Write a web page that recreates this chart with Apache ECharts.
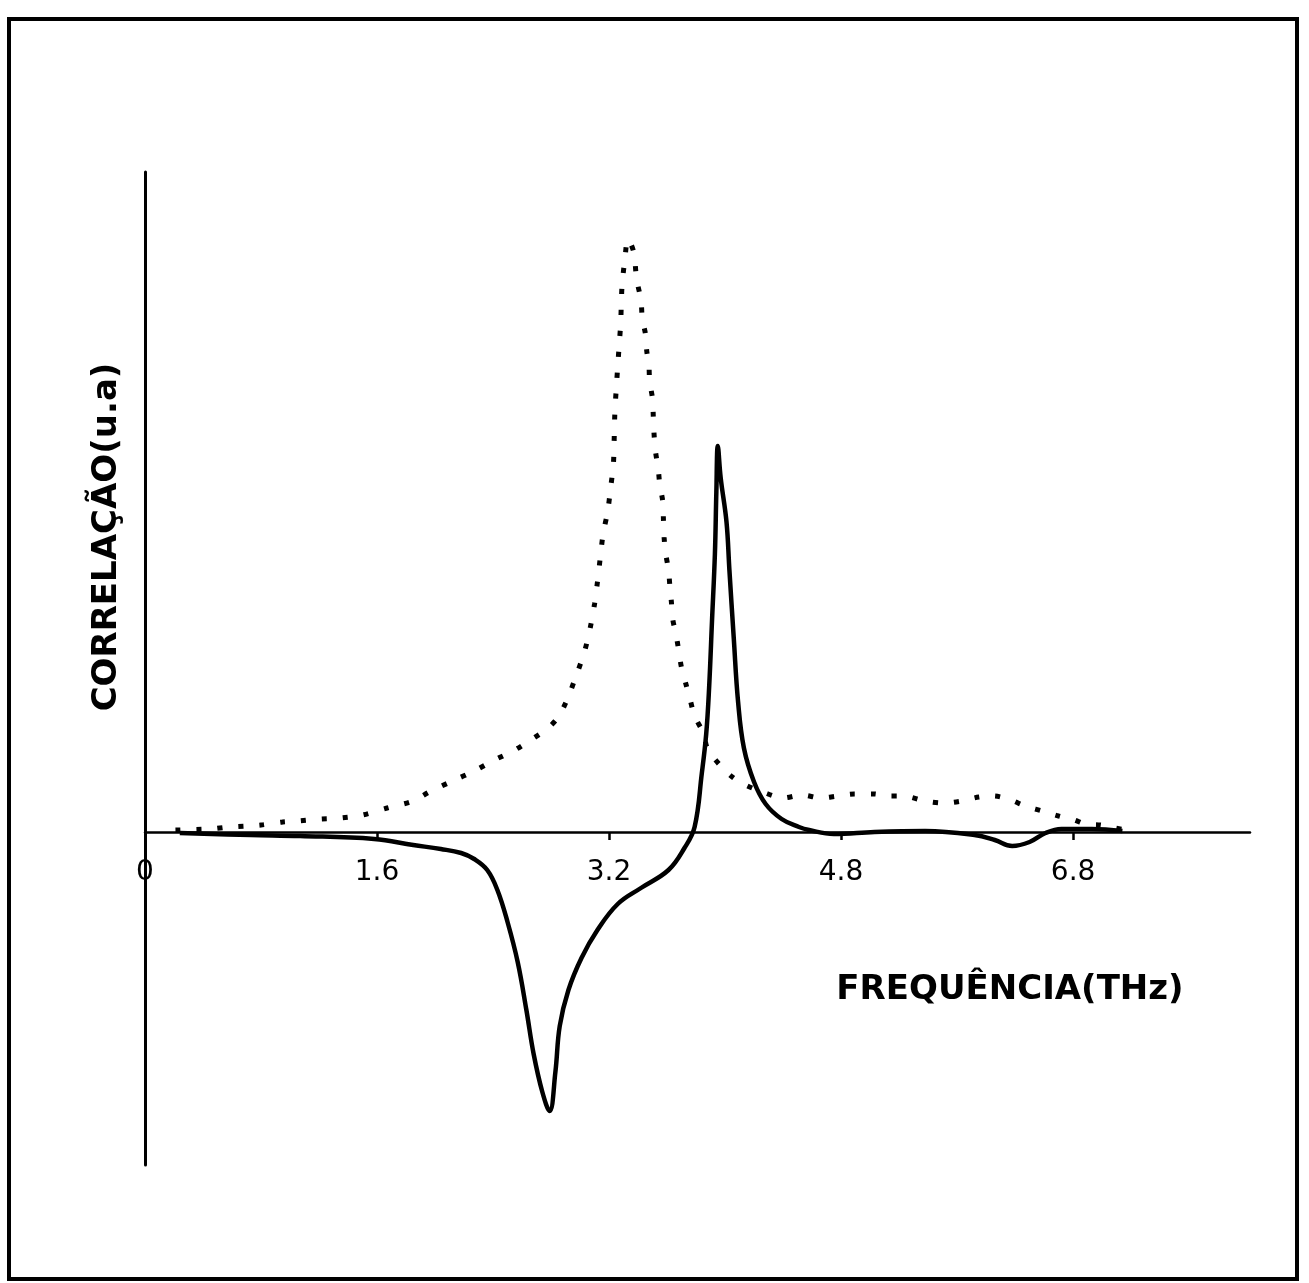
<!DOCTYPE html>
<html>
<head>
<meta charset="utf-8">
<script src="https://cdn.jsdelivr.net/npm/echarts@6/dist/echarts.min.js"></script>
<style>
html,body{margin:0;padding:0;background:#fff;}
#chart{width:1309px;height:1283px;}
</style>
</head>
<body>
<div id="chart"></div>
<script>
// Tick labels as printed on the x axis (equally spaced)
var xTickLabels = ['0', '1.6', '3.2', '4.8', '6.8'];
var xTickStep = 1.6;

// Dotted curve: frequency (THz) and correlation (a.u.)
var dottedX = [0.21,0.45,0.58,0.70,0.80,0.95,1.06,1.21,1.35,1.50,1.67,1.85,1.96,2.12,2.27,2.41,2.55,2.67,2.78,2.85,2.91,2.97,3.03,3.07,3.10,3.12,3.14,3.16,3.19,3.21,3.23,3.235,3.24,3.25,3.26,3.27,3.28,3.285,3.29,3.31,3.33,
  3.37,3.39,3.42,3.43,3.45,3.46,3.475,3.48,3.50,3.505,3.51,3.52,3.54,3.55,3.57,3.575,3.58,3.59,3.61,3.62,3.63,3.64,3.66,3.68,3.70,3.73,3.76,3.79,3.85,3.88,3.97,4.05,4.14,4.26,4.40,4.53,4.66,4.78,4.89,5.03,5.11,5.23,5.38,5.51,5.63,5.75,5.85,5.97,6.07,6.21,6.30,6.41,6.48,6.59,6.69,6.77];
var dottedY = [0.02,0.03,0.05,0.06,0.07,0.10,0.11,0.13,0.14,0.17,0.24,0.31,0.40,0.51,0.61,0.72,0.82,0.93,1.04,1.15,1.32,1.55,1.80,2.04,2.28,2.50,2.75,2.99,3.20,3.43,3.68,3.90,4.19,4.44,4.66,4.87,5.08,5.30,5.47,5.74,5.93,
  5.80,5.53,5.32,5.12,4.99,4.81,4.66,4.51,4.33,4.16,3.99,3.81,3.62,3.47,3.31,3.13,2.94,2.79,2.62,2.45,2.30,2.12,1.99,1.82,1.64,1.48,1.32,1.16,0.99,0.83,0.66,0.55,0.47,0.40,0.34,0.37,0.34,0.36,0.38,0.38,0.36,0.36,0.31,0.29,0.31,0.35,0.36,0.32,0.26,0.20,0.16,0.12,0.08,0.07,0.04,0.02];

// Solid curve: frequency (THz) and correlation (a.u.)
var solidX = [0.24,0.73,1.07,1.58,1.85,2.04,2.18,2.27,2.36,2.43,2.50,2.57,2.63,2.68,2.74,2.79,2.83,2.86,2.92,3.01,3.12,3.26,3.42,3.61,3.72,3.79,3.84,3.87,3.89,3.91,3.93,3.94,3.95,3.97,4.01,4.03,4.06,4.09,4.13,4.20,4.28,4.39,4.51,4.58,4.75,5.03,5.38,5.72,5.86,5.98,6.10,6.21,6.32,6.53,6.74];
var solidY = [-0.01,-0.03,-0.04,-0.07,-0.13,-0.17,-0.21,-0.27,-0.38,-0.58,-0.90,-1.30,-1.78,-2.22,-2.60,-2.79,-2.40,-1.94,-1.58,-1.26,-0.98,-0.72,-0.56,-0.38,-0.16,0.05,0.59,0.98,1.44,2.11,2.78,3.40,3.86,3.54,3.10,2.62,1.94,1.30,0.84,0.50,0.28,0.13,0.05,0.02,-0.02,0.00,0.01,-0.03,-0.08,-0.14,-0.10,-0.01,0.03,0.03,0.01];

function pairs(xs, ys){ return xs.map(function(x,i){ return [x, ys[i]]; }); }

var chart = echarts.init(document.getElementById('chart'), null, {renderer:'canvas'});
var font = '"DejaVu Sans", sans-serif';
var xMax = 7.62;
chart.setOption({
  animation: false,
  backgroundColor: '#ffffff',
  grid: [
    {left: 145, right: 59, top: 172, bottom: 118, containLabel: false},
    {left: 145, right: 59, top: 172, height: 660, containLabel: false}
  ],
  xAxis: [
    {
      type: 'value', gridIndex: 0, min: 0, max: xMax, interval: xTickStep,
      axisLine: {show: false}, axisTick: {show: false}, axisLabel: {show: false}, splitLine: {show: false}
    },
    {
      type: 'value', gridIndex: 1, min: 0, max: xMax, interval: xTickStep, position: 'bottom',
      axisLine: {show: true, onZero: false, lineStyle: {color: '#000', width: 2.5}},
      axisTick: {show: true, length: 8, lineStyle: {color: '#000', width: 2.5}},
      splitLine: {show: false},
      axisLabel: {
        color: '#000', fontSize: 28, fontFamily: font, margin: 27, showMaxLabel: false,
        formatter: function(v){
          var k = Math.round(v / xTickStep);
          if (Math.abs(k * xTickStep - v) > 1e-6) return '';
          return xTickLabels[k] !== undefined ? xTickLabels[k] : '';
        }
      }
    }
  ],
  yAxis: [
    {
      type: 'value', gridIndex: 0, min: -3.33, max: 6.6,
      axisLine: {show: true, onZero: false, lineStyle: {color: '#000', width: 3}},
      axisTick: {show: false}, axisLabel: {show: false}, splitLine: {show: false}
    },
    {
      type: 'value', gridIndex: 1, min: 0, max: 6.6, show: false
    }
  ],
  series: [
    {
      type: 'line', xAxisIndex: 0, yAxisIndex: 0, data: pairs(dottedX, dottedY), showSymbol: false, smooth: 0.3,
      lineStyle: {color: '#000', width: 5, type: [5, 16]}
    },
    {
      type: 'line', xAxisIndex: 0, yAxisIndex: 0, data: pairs(solidX, solidY), showSymbol: false, smooth: 0.4,
      lineStyle: {color: '#000', width: 4.5}
    }
  ],
  graphic: [
    {type: 'rect', shape: {x: 9, y: 19, width: 1288, height: 1260}, style: {fill: 'none', stroke: '#000', lineWidth: 4}, silent: true},
    {type: 'text', x: 107, y: 537, rotation: Math.PI / 2,
     style: {text: 'CORRELAÇÃO(u.a)', font: 'bold 34px "DejaVu Sans", sans-serif', fill: '#000', textAlign: 'center', textVerticalAlign: 'middle'}},
    {type: 'text', x: 1010, y: 990,
     style: {text: 'FREQUÊNCIA(THz)', font: 'bold 34px "DejaVu Sans", sans-serif', fill: '#000', textAlign: 'center', textVerticalAlign: 'middle'}}
  ]
});
</script>
</body>
</html>
